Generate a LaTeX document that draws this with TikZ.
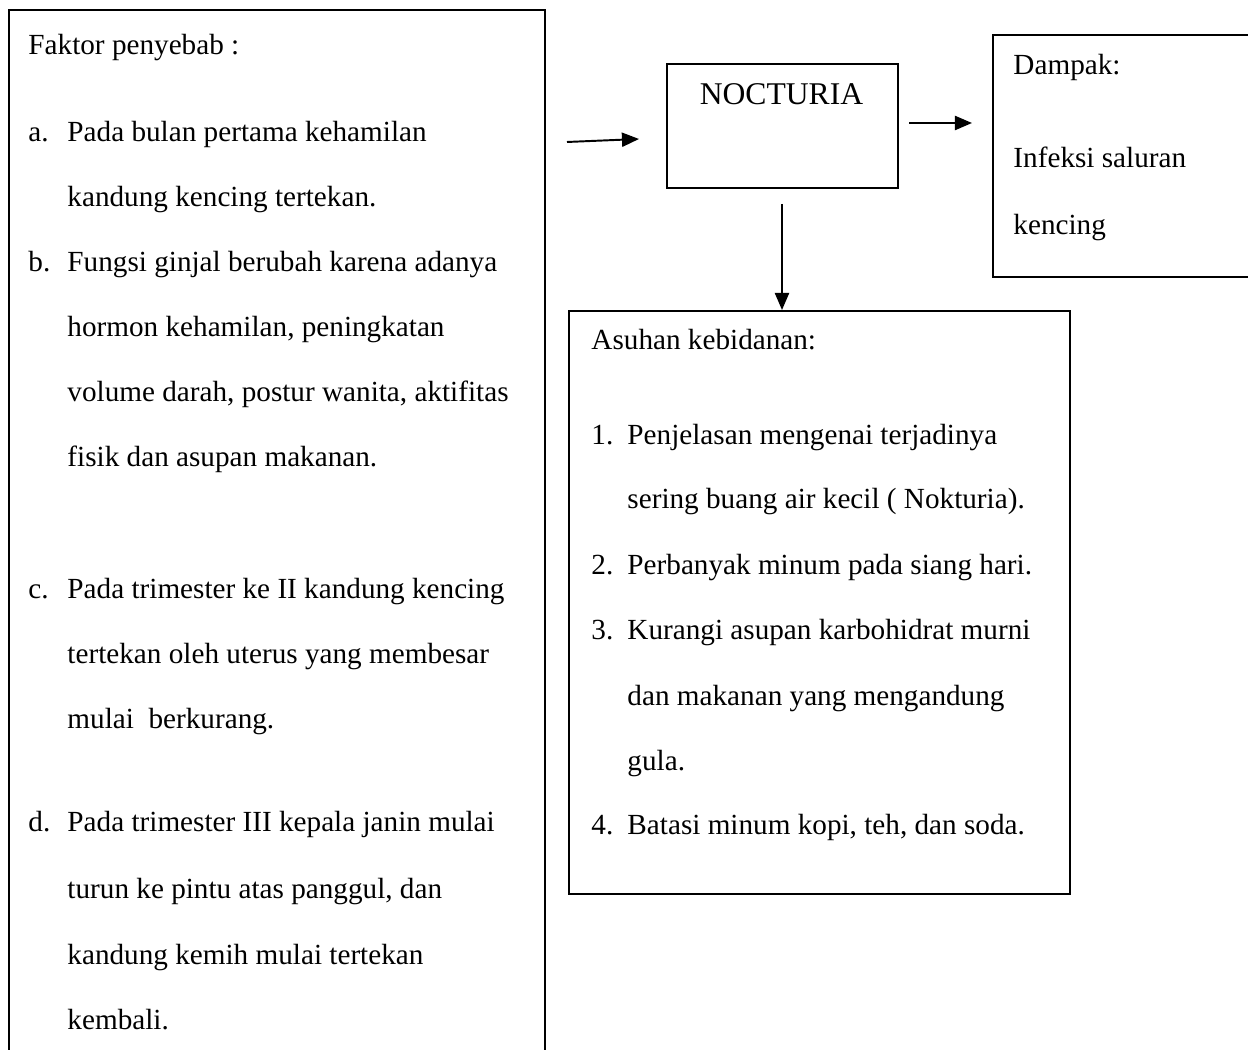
\documentclass[tikz,border=0pt]{standalone}
\usepackage{fontspec}
\setmainfont{Liberation Serif}
\usetikzlibrary{arrows.meta}
\begin{document}
\begin{tikzpicture}[x=0.411pt,y=-0.411pt,
    box/.style={draw,line width=0.7pt,anchor=north west,inner sep=0pt},
    txt/.style={anchor=base west,inner sep=0pt,font=\fontsize{12}{14}\selectfont},
    arr/.style={line width=0.8pt,-{Triangle[length=7pt,width=5.8pt]}}]
  \useasboundingbox (0,0) rectangle (1248,1050);
  \clip (0,0) rectangle (1248,1050);
  \node (fak) [box,minimum width=220.3pt,minimum height=436pt] at (8,9) {};
  \node (noc) [box,minimum width=94.9pt,minimum height=51pt] at (666,63) {};
  \node (dam) [box,minimum width=114pt,minimum height=99.5pt] at (992,34) {};
  \node (asu) [box,minimum width=205.9pt,minimum height=239.6pt] at (568,310) {};
  \node (noclbl) [anchor=base,inner sep=0pt,font=\fontsize{13}{15}\selectfont] at (781.5,105) {NOCTURIA};
  \draw
    (28,55) node[txt] (fak0) {Faktor penyebab :}
    (28,142) node[txt] (fakan) {a.}
    (67,142) node[txt] (faka1) {Pada bulan pertama kehamilan}
    (67,207) node[txt] (faka2) {kandung kencing tertekan.}
    (28,272) node[txt] (fakbn) {b.}
    (67,272) node[txt] (fakb1) {Fungsi ginjal berubah karena adanya}
    (67,337) node[txt] (fakb2) {hormon kehamilan, peningkatan}
    (67,402) node[txt] (fakb3) {volume darah, postur wanita, aktifitas}
    (67,467) node[txt] (fakb4) {fisik dan asupan makanan.}
    (28,599) node[txt] (fakcn) {c.}
    (67,599) node[txt] (fakc1) {Pada trimester ke II kandung kencing}
    (67,664) node[txt] (fakc2) {tertekan oleh uterus yang membesar}
    (67,729) node[txt] (fakc3) {mulai\ \ berkurang.}
    (28,832) node[txt] (fakdn) {d.}
    (67,832) node[txt] (fakd1) {Pada trimester III kepala janin mulai}
    (67,899) node[txt] (fakd2) {turun ke pintu atas panggul, dan}
    (67,965) node[txt] (fakd3) {kandung kemih mulai tertekan}
    (67,1030) node[txt] (fakd4) {kembali.};
  \draw
    (1013,75) node[txt] (dam0) {Dampak:}
    (1013,168) node[txt] (dam1) {Infeksi saluran}
    (1013,235) node[txt] (dam2) {kencing};
  \draw
    (591,350) node[txt] (asu0) {Asuhan kebidanan:}
    (591,445) node[txt] (asu1n) {1.}
    (627,445) node[txt] (asu1a) {Penjelasan mengenai terjadinya}
    (627,509) node[txt] (asu1b) {sering buang air kecil ( Nokturia).}
    (591,575) node[txt] (asu2n) {2.}
    (627,575) node[txt] (asu2a) {Perbanyak minum pada siang hari.}
    (591,640) node[txt] (asu3n) {3.}
    (627,640) node[txt] (asu3a) {Kurangi asupan karbohidrat murni}
    (627,706) node[txt] (asu3b) {dan makanan yang mengandung}
    (627,771) node[txt] (asu3c) {gula.}
    (591,835) node[txt] (asu4n) {4.}
    (627,835) node[txt] (asu4a) {Batasi minum kopi, teh, dan soda.};
  \coordinate (in1) at (567,142);
  \coordinate (in2) at (639,139);
  \coordinate (out1) at (909,123);
  \coordinate (out2) at (972,123);
  \coordinate (down1) at (782,204);
  \begin{scope}[arr]
    \draw (in1) to (in2);
    \draw (out1) to (out2);
    \draw (down1) to (down1 |- asu.north);
  \end{scope}
\end{tikzpicture}
\end{document}
